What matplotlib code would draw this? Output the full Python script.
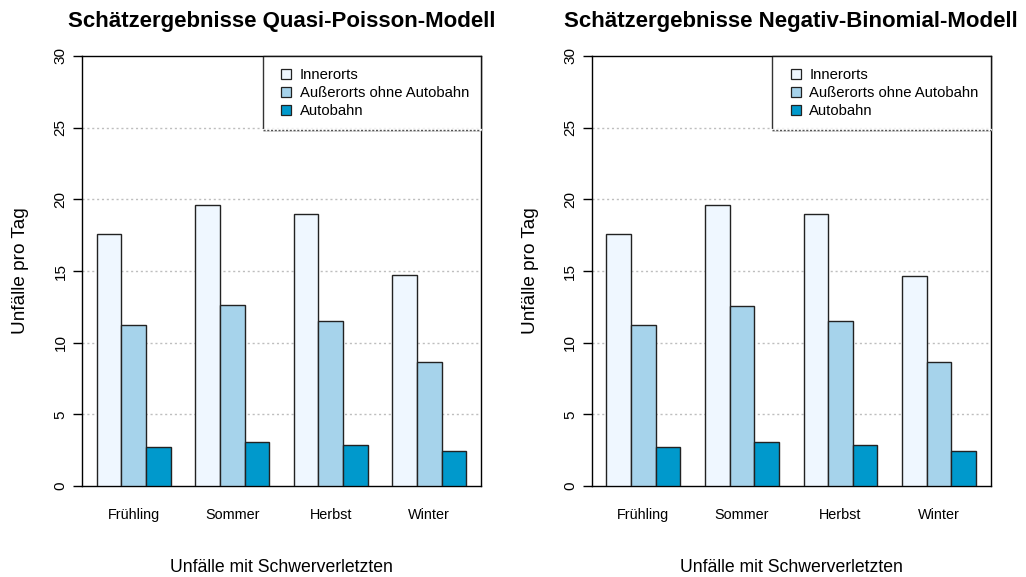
import numpy as np
import matplotlib
matplotlib.use('Agg')
import matplotlib.pyplot as plt
from matplotlib.lines import Line2D

plt.rcParams['font.family'] = ['Liberation Sans', 'DejaVu Sans']

# Jahreszeiten und Bereiche
seasons = ['Frühling', 'Sommer', 'Herbst', 'Winter']
areas = ['Innerorts', 'Außerorts ohne Autobahn', 'Autobahn']
colors = ['#EFF7FF', '#A6D3EB', '#0099CC']

# Geschätzte Unfälle pro Tag (Quasi-Poisson)
qp_inner = [17.55, 19.59, 18.96, 14.73]
qp_ausser = [11.25, 12.62, 11.53, 8.67]
qp_ab = [2.74, 3.04, 2.86, 2.42]

# Geschätzte Unfälle pro Tag (Negativ-Binomial)
nb_inner = [17.59, 19.61, 18.96, 14.62]
nb_ausser = [11.25, 12.57, 11.53, 8.65]
nb_ab = [2.74, 3.04, 2.86, 2.42]

titles = ['Schätzergebnisse Quasi-Poisson-Modell',
          'Schätzergebnisse Negativ-Binomial-Modell']
panels = [[qp_inner, qp_ausser, qp_ab], [nb_inner, nb_ausser, nb_ab]]

W, H = 1026, 577
fig = plt.figure(figsize=(W / 100, H / 100), dpi=100)

lefts = [82, 591.7]
axes = []
for i, (left, data) in enumerate(zip(lefts, panels)):
    ax = fig.add_axes([left / W, 1 - 486 / H, 399 / W, 430 / H])
    axes.append(ax)
    # gruppierte Balken wie in R barplot(beside=TRUE)
    for s, vals in enumerate(data):
        x = 1 + 4 * np.arange(len(seasons)) + s
        ax.bar(x, vals, width=1, align='edge', color=colors[s],
               edgecolor='#222222', linewidth=1, zorder=3)
    ax.set_xlim(0.4, 16.6)
    ax.set_ylim(0, 30)
    for yv in [5, 10, 15, 20, 25]:
        ax.axhline(yv, color='#BEBEBE', lw=1, ls=(0, (1.5, 2)), zorder=1)
    ax.set_yticks([0, 5, 10, 15, 20, 25, 30])
    ax.tick_params(axis='y', labelrotation=90, length=6.5, width=1,
                   labelsize=11, pad=4)
    for lab in ax.get_yticklabels():
        lab.set_va('center')
    ax.set_xticks(1 + 4 * np.arange(len(seasons)) + 1.5)
    ax.set_xticklabels(seasons)
    ax.tick_params(axis='x', length=0, labelsize=10.4, pad=16)
    for sp in ax.spines.values():
        sp.set_linewidth(1)
        sp.set_color('black')

    handles = [Line2D([], [], ls='none', marker='s', markersize=7,
                      markerfacecolor=c, markeredgecolor='#222222',
                      markeredgewidth=0.9) for c in colors]
    leg = ax.legend(handles, areas, loc='upper right', bbox_to_anchor=(1, 1),
                    borderaxespad=0, fontsize=10.7, frameon=True, fancybox=False,
                    handlelength=1.6, handletextpad=0.1, borderpad=0.8,
                    labelspacing=0.27)
    leg.get_frame().set_edgecolor('black')
    leg.get_frame().set_linewidth(1)
    leg.set_zorder(5)

    cx = (left + 399 / 2) / W
    fig.text(cx, 1 - 26.5 / H, titles[i], ha='center', va='baseline',
             fontsize=16, fontweight='bold')
    fig.text(cx, 1 - 571.5 / H, 'Unfälle mit Schwerverletzten', ha='center',
             va='baseline', fontsize=12.7)
    fig.text((left - 61) / W, 1 - 271 / H, 'Unfälle pro Tag', ha='center',
             va='center', rotation=90, fontsize=13.7)

# untere Legendenkante gepunktet wie im Original
fig.canvas.draw()
for ax in axes:
    leg = ax.get_legend()
    bb = leg.get_window_extent().transformed(ax.transAxes.inverted())
    ax.plot([bb.x0, 1], [bb.y0, bb.y0], transform=ax.transAxes, color='white',
            lw=1.6, zorder=6, clip_on=False)
    ax.plot([bb.x0, 1], [bb.y0, bb.y0], transform=ax.transAxes, color='#555555',
            lw=1, ls=(0, (1.5, 1.2)), zorder=7, clip_on=False)

fig.savefig('out.png', dpi=100)
